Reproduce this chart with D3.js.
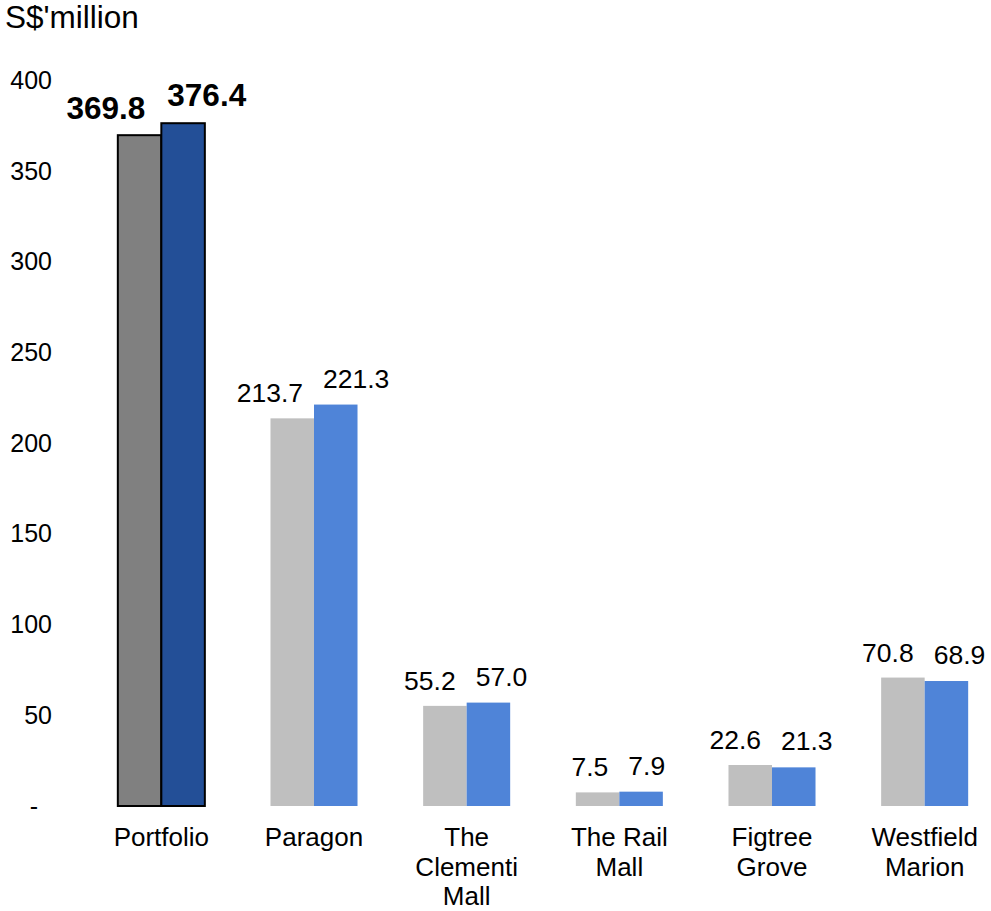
<!DOCTYPE html>
<html>
<head>
<meta charset="utf-8">
<script src="https://cdn.jsdelivr.net/npm/d3@7"></script>
<style>
  html, body { margin: 0; padding: 0; background: #fff; }
  svg { display: block; font-family: Arial, "Liberation Sans", sans-serif; }
</style>
</head>
<body>
<svg id="chart" width="991" height="911"></svg>
<script>
const categories = [["Portfolio"], ["Paragon"], ["The", "Clementi", "Mall"], ["The Rail", "Mall"], ["Figtree", "Grove"], ["Westfield", "Marion"]];
const seriesNames = ["prior", "current"];
const priorValues = [369.8, 213.7, 55.2, 7.5, 22.6, 70.8];
const currentValues = [376.4, 221.3, 57.0, 7.9, 21.3, 68.9];
const yTicks = [0, 50, 100, 150, 200, 250, 300, 350, 400];
const yTitle = "S$'million";

const svg = d3.select("#chart");

const x = d3.scaleBand()
  .domain(d3.range(categories.length))
  .range([85, 1001])
  .paddingInner(0.43)
  .paddingOuter(0.215);

const xs = d3.scaleBand().domain(seriesNames).range([0, x.bandwidth()]);

const y = d3.scaleLinear().domain([0, 400]).range([806, 80.4]);

// Title
svg.append("text")
  .attr("x", 5).attr("y", 28)
  .attr("font-size", 31.5)
  .attr("fill", "#000")
  .text(yTitle);

// Y axis
const yAxis = d3.axisLeft(y)
  .tickValues(yTicks)
  .tickSize(0)
  .tickPadding(0)
  .tickFormat(d => d === 0 ? "-\u00a0\u00a0" : d3.format("d")(d));
const yg = svg.append("g").attr("transform", "translate(52,0)").call(yAxis);
yg.select(".domain").remove();
yg.selectAll("text")
  .attr("font-size", 25)
  .attr("fill", "#000")
  .attr("font-family", "Arial, 'Liberation Sans', sans-serif");

// Bars
const rows = categories.map((c, i) => ({ i, prior: priorValues[i], current: currentValues[i] }));
const colors = {
  prior: i => i === 0 ? "#808080" : "#BFBFBF",
  current: i => i === 0 ? "#234F97" : "#4F84D8"
};

const groups = svg.append("g").selectAll("g")
  .data(rows).enter().append("g")
  .attr("transform", d => `translate(${x(d.i)},0)`);

seriesNames.forEach(s => {
  groups.append("rect")
    .attr("x", xs(s))
    .attr("width", xs.bandwidth())
    .attr("y", d => y(d[s]))
    .attr("height", d => y(0) - y(d[s]))
    .attr("fill", d => colors[s](d.i))
    .attr("stroke", d => d.i === 0 ? "#000" : "none")
    .attr("stroke-width", 2);
});

// Value labels
groups.append("text")
  .attr("x", d => xs("prior") + xs.bandwidth() - (d.i === 0 ? 16 : 11))
  .attr("y", d => y(d.prior) - 16)
  .attr("text-anchor", "end")
  .attr("font-size", d => d.i === 0 ? 31.5 : 26.5)
  .attr("font-weight", d => d.i === 0 ? "bold" : "normal")
  .attr("fill", "#000")
  .text(d => d3.format(".1f")(d.prior));

groups.append("text")
  .attr("x", d => xs("current") + (d.i === 0 ? 6 : 9))
  .attr("y", d => y(d.current) - 17)
  .attr("text-anchor", "start")
  .attr("font-size", d => d.i === 0 ? 31.5 : 26.5)
  .attr("font-weight", d => d.i === 0 ? "bold" : "normal")
  .attr("fill", "#000")
  .text(d => d3.format(".1f")(d.current));

// Category labels
const cat = svg.append("g").selectAll("text")
  .data(categories).enter().append("text")
  .attr("x", (d, i) => x(i) + x.bandwidth() / 2)
  .attr("y", 846)
  .attr("text-anchor", "middle")
  .attr("font-size", 26)
  .attr("fill", "#000");
cat.selectAll("tspan")
  .data(d => d).enter().append("tspan")
  .attr("x", function () { return d3.select(this.parentNode).attr("x"); })
  .attr("dy", (d, j) => j === 0 ? 0 : 29.5)
  .text(d => d);
</script>
</body>
</html>
